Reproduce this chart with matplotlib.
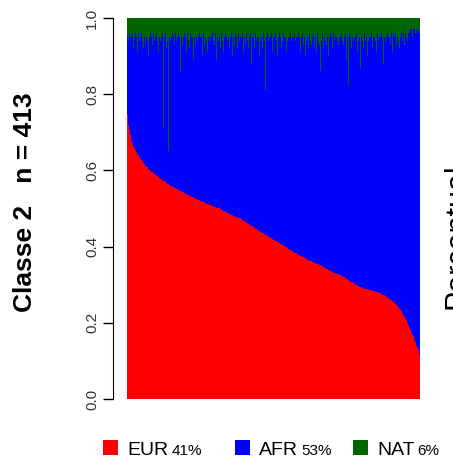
import matplotlib
matplotlib.use("Agg")
import matplotlib.pyplot as plt
import numpy as np
from matplotlib.patches import Rectangle

plt.rcParams['font.family'] = ['Liberation Sans', 'DejaVu Sans']

# ancestralidade individual, classe 2, ordenada por EUR
eur = [
    0.745, 0.730, 0.718, 0.705, 0.692,
    0.684, 0.677, 0.671, 0.666, 0.662, 0.658, 0.654, 0.650, 0.647, 0.644, 0.641, 0.638, 0.636,
    0.633, 0.630, 0.627, 0.625, 0.622, 0.620, 0.617, 0.615, 0.612, 0.610, 0.608, 0.605, 0.603, 0.601,
    0.599, 0.598, 0.596, 0.595, 0.593, 0.592, 0.590, 0.589, 0.588, 0.586, 0.585, 0.584, 0.582, 0.581,
    0.580, 0.578, 0.577, 0.576, 0.574, 0.573, 0.572, 0.570, 0.569, 0.568, 0.566, 0.565, 0.564, 0.562,
    0.561, 0.560, 0.559, 0.558, 0.557, 0.556, 0.555, 0.554, 0.553, 0.552, 0.551, 0.550, 0.549, 0.548, 0.547,
    0.546, 0.545, 0.544, 0.543, 0.542, 0.541, 0.540, 0.539, 0.538, 0.537, 0.536, 0.535, 0.534, 0.533,
    0.532, 0.531, 0.531, 0.530, 0.529, 0.528, 0.527, 0.526, 0.525, 0.524, 0.523, 0.523, 0.522, 0.521,
    0.520, 0.519, 0.519, 0.518, 0.517, 0.516, 0.516, 0.515, 0.514, 0.513, 0.512, 0.512, 0.511, 0.510,
    0.509, 0.509, 0.508, 0.507, 0.506, 0.505, 0.505, 0.504, 0.503, 0.502, 0.502, 0.501, 0.500, 0.500,
    0.499, 0.498, 0.497, 0.496, 0.495, 0.494, 0.493, 0.492, 0.491, 0.490, 0.489, 0.488, 0.487, 0.486,
    0.486, 0.485, 0.484, 0.483, 0.482, 0.481, 0.480, 0.479, 0.478, 0.478, 0.477, 0.476, 0.476, 0.475,
    0.474, 0.473, 0.472, 0.471, 0.469, 0.468, 0.467, 0.466, 0.464, 0.463, 0.462, 0.461, 0.459, 0.458,
    0.457, 0.456, 0.454, 0.453, 0.452, 0.451, 0.449, 0.448, 0.447, 0.446, 0.444, 0.443, 0.442, 0.441,
    0.440, 0.439, 0.438, 0.437, 0.436, 0.435, 0.433, 0.432, 0.431, 0.430, 0.429, 0.428, 0.426, 0.425,
    0.424, 0.423, 0.422, 0.421, 0.419, 0.418, 0.417, 0.416, 0.415, 0.414, 0.413, 0.412, 0.411, 0.410,
    0.409, 0.408, 0.407, 0.406, 0.404, 0.403, 0.402, 0.401, 0.400, 0.399, 0.397, 0.396, 0.395, 0.394,
    0.392, 0.391, 0.390, 0.389, 0.388, 0.387, 0.385, 0.384, 0.383, 0.382, 0.381, 0.380, 0.379, 0.378,
    0.377, 0.376, 0.375, 0.374, 0.373, 0.372, 0.371, 0.370, 0.369, 0.368, 0.367, 0.366, 0.365, 0.364,
    0.363, 0.362, 0.361, 0.361, 0.360, 0.359, 0.358, 0.357, 0.356, 0.356, 0.355, 0.354, 0.354, 0.353, 0.352,
    0.351, 0.350, 0.349, 0.348, 0.347, 0.346, 0.345, 0.344, 0.343, 0.342, 0.341, 0.340, 0.339, 0.338,
    0.337, 0.336, 0.335, 0.334, 0.333, 0.332, 0.332, 0.331, 0.330, 0.329, 0.328, 0.327, 0.327, 0.326,
    0.325, 0.324, 0.323, 0.322, 0.321, 0.320, 0.319, 0.317, 0.316, 0.315, 0.314, 0.313, 0.312, 0.311,
    0.309, 0.308, 0.307, 0.306, 0.305, 0.304, 0.303, 0.301, 0.300, 0.299, 0.298, 0.297, 0.296, 0.295,
    0.294, 0.293, 0.293, 0.292, 0.292, 0.291, 0.290, 0.290, 0.289, 0.289, 0.288, 0.288, 0.287, 0.287,
    0.286, 0.285, 0.285, 0.284, 0.284, 0.283, 0.283, 0.282, 0.282, 0.281, 0.281, 0.280, 0.280, 0.279,
    0.278, 0.277, 0.276, 0.275, 0.274, 0.273, 0.272, 0.271, 0.270, 0.268, 0.267, 0.266, 0.265, 0.264,
    0.262, 0.261, 0.260, 0.258, 0.257, 0.255, 0.254,
    0.252, 0.250, 0.248, 0.246, 0.243, 0.241, 0.238, 0.236, 0.233, 0.230, 0.227, 0.224, 0.221, 0.218,
    0.215, 0.211, 0.207, 0.203, 0.199, 0.195, 0.191,
    0.186, 0.182, 0.178, 0.174, 0.169, 0.165, 0.160,
    0.155, 0.150, 0.145, 0.140, 0.135, 0.130, 0.124, 0.118,
]

nat = [
    0.05, 0.05, 0.06, 0.04, 0.05, 0.07, 0.05, 0.04, 0.06, 0.08, 0.05, 0.04, 0.06, 0.05, 0.09, 0.05, 0.04, 0.06, 0.13, 0.05,
    0.04, 0.06, 0.05, 0.08, 0.05, 0.04, 0.07, 0.05, 0.06, 0.04, 0.10, 0.05, 0.06, 0.04, 0.05, 0.07, 0.05, 0.04, 0.06, 0.08,
    0.05, 0.04, 0.06, 0.05, 0.09, 0.05, 0.04, 0.06, 0.05, 0.07, 0.04, 0.29, 0.05, 0.06, 0.04, 0.08, 0.05, 0.06, 0.35, 0.05,
    0.04, 0.06, 0.05, 0.08, 0.04, 0.05, 0.07, 0.05, 0.04, 0.06, 0.10, 0.05, 0.04, 0.06, 0.05, 0.14, 0.05, 0.04, 0.07, 0.05,
    0.06, 0.04, 0.05, 0.09, 0.05, 0.04, 0.06, 0.05, 0.08, 0.04, 0.05, 0.06, 0.05, 0.11, 0.04, 0.05, 0.07, 0.05, 0.04, 0.06,
    0.05, 0.08, 0.04, 0.05, 0.06, 0.05, 0.10, 0.04, 0.05, 0.07, 0.05, 0.04, 0.06, 0.09, 0.05, 0.04, 0.06, 0.05, 0.08, 0.05,
    0.04, 0.06, 0.05, 0.07, 0.04, 0.05, 0.11, 0.05, 0.06, 0.04, 0.05, 0.08, 0.05, 0.04, 0.06, 0.05, 0.09, 0.05, 0.04, 0.07,
    0.05, 0.06, 0.04, 0.05, 0.08, 0.05, 0.06, 0.04, 0.10, 0.05, 0.05, 0.07, 0.04, 0.06, 0.05, 0.08, 0.05, 0.04, 0.06, 0.05,
    0.07, 0.05, 0.04, 0.06, 0.09, 0.05, 0.05, 0.07, 0.04, 0.06, 0.05, 0.08, 0.05, 0.06, 0.04, 0.12, 0.05, 0.06, 0.05, 0.08,
    0.05, 0.04, 0.06, 0.05, 0.07, 0.05, 0.10, 0.04, 0.06, 0.05, 0.08, 0.05, 0.04, 0.06, 0.05, 0.19, 0.05, 0.07, 0.04, 0.06,
    0.05, 0.08, 0.05, 0.04, 0.06, 0.09, 0.05, 0.05, 0.07, 0.04, 0.06, 0.05, 0.10, 0.05, 0.04, 0.06, 0.05, 0.08, 0.05, 0.06,
    0.04, 0.07, 0.05, 0.05, 0.09, 0.04, 0.06, 0.05, 0.08, 0.05, 0.04, 0.06, 0.11, 0.05, 0.05, 0.07, 0.04, 0.06, 0.05, 0.08,
    0.05, 0.04, 0.06, 0.05, 0.09, 0.05, 0.06, 0.04, 0.07, 0.05, 0.05, 0.10, 0.04, 0.06, 0.05, 0.08, 0.05, 0.04, 0.06, 0.05,
    0.07, 0.05, 0.04, 0.06, 0.08, 0.05, 0.05, 0.09, 0.04, 0.06, 0.05, 0.07, 0.14, 0.05, 0.06, 0.04, 0.08, 0.05, 0.05, 0.06,
    0.04, 0.07, 0.05, 0.06, 0.10, 0.05, 0.04, 0.06, 0.05, 0.08, 0.05, 0.04, 0.06, 0.05, 0.09, 0.05, 0.06, 0.04, 0.07, 0.05,
    0.05, 0.08, 0.04, 0.06, 0.05, 0.07, 0.05, 0.04, 0.06, 0.11, 0.05, 0.05, 0.175, 0.04, 0.06, 0.05, 0.08, 0.05, 0.04, 0.06,
    0.05, 0.07, 0.05, 0.04, 0.09, 0.05, 0.06, 0.05, 0.04, 0.13, 0.05, 0.06, 0.05, 0.08, 0.04, 0.05, 0.06, 0.05, 0.10, 0.04,
    0.06, 0.05, 0.07, 0.05, 0.04, 0.06, 0.08, 0.05, 0.05, 0.04, 0.06, 0.09, 0.05, 0.04, 0.06, 0.05, 0.07, 0.05, 0.04, 0.06,
    0.05, 0.12, 0.05, 0.04, 0.06, 0.05, 0.08, 0.04, 0.05, 0.06, 0.05, 0.07, 0.04, 0.05, 0.09, 0.04, 0.06, 0.05, 0.04, 0.07,
    0.04, 0.05, 0.06, 0.04, 0.08, 0.05, 0.04, 0.05, 0.06, 0.04, 0.05, 0.07, 0.04, 0.05, 0.04, 0.06, 0.04, 0.05, 0.04, 0.03,
    0.04, 0.03, 0.05, 0.03, 0.04, 0.03, 0.04, 0.03, 0.03, 0.04, 0.03, 0.03, 0.04,
]

groups = ["EUR", "AFR", "NAT"]
group_pct = ["41%", "53%", "6%"]
colors = ["#ff0000", "#0000ff", "#006400"]

eur = np.array(eur)
nat = np.array(nat)
afr = 1 - eur - nat
n = len(eur)

fig = plt.figure(figsize=(4.53, 4.61), dpi=100)
W, H = 453, 461
ax = fig.add_axes([127 / W, 1 - 399 / H, (420 - 127) / W, (399 - 18) / H])

x = np.arange(n)
ax.bar(x, eur, width=1.0, color=colors[0], linewidth=0, antialiased=False)
ax.bar(x, afr, width=1.0, bottom=eur, color=colors[1], linewidth=0, antialiased=False)
ax.bar(x, nat, width=1.0, bottom=eur + afr, color=colors[2], linewidth=0, antialiased=False)

ax.set_xlim(-0.5, n - 0.5)
ax.set_ylim(0, 1)
for s in ["top", "right", "bottom"]:
    ax.spines[s].set_visible(False)
ax.spines["left"].set_position(("outward", 10))
ax.spines["left"].set_bounds(0, 1)
ax.set_xticks([])
yt = [0.0, 0.2, 0.4, 0.6, 0.8, 1.0]
ax.set_yticks(yt)
ax.set_yticklabels(["%.1f" % v for v in yt], rotation=90, va="center")
ax.tick_params(axis="y", length=7, width=1, pad=3, labelsize=11, labelcolor="#333333")

fig.text(25 / W, 1 - 202 / H, "Classe 2   n = 413", rotation=90, ha="center", va="center",
         fontsize=19, fontweight="bold")
# rótulo do painel vizinho, cortado na borda
fig.text(443 / W, 1 - 236 / H, "Percentual", rotation=90, ha="left", va="center", fontsize=22)

# legenda manual
sq_x = [103, 235, 353]
for i in range(3):
    fig.patches.append(Rectangle((sq_x[i] / W, 1 - 455 / H), 15 / W, 15 / H,
                                 transform=fig.transFigure, facecolor=colors[i],
                                 edgecolor="none"))
    t = fig.text((sq_x[i] + 24) / W, 1 - 455 / H, groups[i], fontsize=14, va="baseline")
    fig.canvas.draw()
    bb = t.get_window_extent()
    fig.text((bb.x1 + 3) / W, 1 - 455 / H, group_pct[i], fontsize=11, va="baseline")

fig.savefig("out.png", dpi=100)
